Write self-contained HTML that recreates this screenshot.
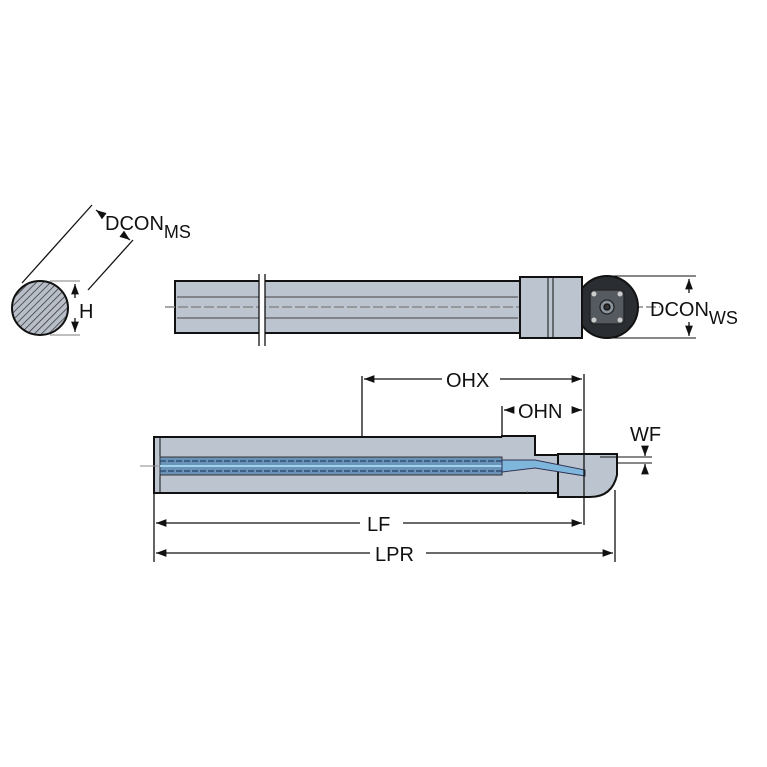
<!DOCTYPE html>
<html><head><style>body{margin:0;background:#fff}svg{display:block}text{font-family:"Liberation Sans",sans-serif;fill:#111}</style></head><body>
<svg width="767" height="767" viewBox="0 0 767 767" xmlns="http://www.w3.org/2000/svg">
<defs>
<pattern id="h" width="5" height="5" patternUnits="userSpaceOnUse" patternTransform="rotate(45)"><rect width="5" height="5" fill="#b8bfc8"/><line x1="0" y1="0" x2="0" y2="5" stroke="#333" stroke-width="1.5"/></pattern>
<marker id="a" markerWidth="8" markerHeight="6" refX="8" refY="3" orient="auto-start-reverse"><path d="M0,0 L8,3 L0,6z" fill="#111"/></marker>
</defs>
<g stroke="#111" fill="none" stroke-width="1.3">
<ellipse cx="40" cy="308" rx="28" ry="27" fill="url(#h)" stroke-width="2"/>
<line x1="22" y1="283" x2="92" y2="205"/><line x1="88" y1="290" x2="133" y2="240"/>
<line x1="96" y1="210" x2="104" y2="216" marker-start="url(#a)"/>
<line x1="122" y1="234" x2="130" y2="240" marker-end="url(#a)"/>
<line x1="50" y1="281" x2="80" y2="281" stroke="#999"/><line x1="50" y1="335" x2="80" y2="335" stroke="#999"/>
<line x1="75" y1="284" x2="75" y2="298" marker-start="url(#a)"/><line x1="75" y1="318" x2="75" y2="332" marker-end="url(#a)"/>
<rect x="175" y="281" width="346" height="52" fill="#bcc5cf" stroke-width="2"/>
<line x1="177" y1="297" x2="518" y2="297" stroke="#444" stroke-width="1"/>
<line x1="177" y1="318" x2="518" y2="318" stroke="#444" stroke-width="1"/>
<line x1="165" y1="307" x2="660" y2="307" stroke="#888" stroke-dasharray="10,3" stroke-width="1.5"/>
<rect x="259" y="276" width="6" height="70" fill="#fff" stroke="none"/>
<line x1="259" y1="274" x2="259" y2="346"/><line x1="265" y1="274" x2="265" y2="346"/>
<circle cx="607" cy="307" r="31" fill="#2a2d31" stroke-width="2"/>
<rect x="520" y="277" width="62" height="61" fill="#bcc5cf" stroke-width="2"/>
<line x1="548" y1="278" x2="548" y2="337" stroke-width="1"/><line x1="553" y1="278" x2="553" y2="337" stroke-width="1"/>
<rect x="590" y="290" width="34" height="34" rx="4" fill="#555a60" stroke="#222"/>
<circle cx="607" cy="307" r="7" fill="#8a939c" stroke="#222"/><circle cx="607" cy="307" r="3" fill="#333"/>
<circle cx="594" cy="294" r="2.5" fill="#ccc" stroke="none"/><circle cx="620" cy="294" r="2.5" fill="#ccc" stroke="none"/>
<circle cx="594" cy="320" r="2.5" fill="#ccc" stroke="none"/><circle cx="620" cy="320" r="2.5" fill="#ccc" stroke="none"/>
<line x1="610" y1="276" x2="696" y2="276" stroke-width="1"/><line x1="610" y1="338" x2="696" y2="338" stroke-width="1"/>
<line x1="689" y1="279" x2="689" y2="293" marker-start="url(#a)"/><line x1="689" y1="322" x2="689" y2="336" marker-end="url(#a)"/>
<rect x="154" y="437" width="374" height="56" fill="#bcc5cf" stroke-width="2"/>
<line x1="160" y1="438" x2="160" y2="492" stroke-width="1"/>
<path d="M502,437 L502,436 L535,436 L535,455 L558,455 L558,493 L528,493" fill="#bcc5cf" stroke-width="2"/>
<path d="M558,454 L617,454 L617,475 Q612,497 590,497 L558,497 Z" fill="#bcc5cf" stroke-width="2"/>
<rect x="160" y="457" width="342" height="18" fill="#6b93b8" stroke="#333" stroke-width="1"/>
<line x1="160" y1="461" x2="502" y2="461" stroke="#2c4f75" stroke-dasharray="6,2" stroke-width="1.5"/>
<line x1="160" y1="471" x2="502" y2="471" stroke="#2c4f75" stroke-dasharray="6,2" stroke-width="1.5"/>
<line x1="160" y1="466" x2="502" y2="466" stroke="#9fd3ee" stroke-width="2"/>
<path d="M502,460 L535,460 L585,470 L585,476 L535,468 L502,472 Z" fill="#7fb7dc" stroke="#335" stroke-width="1"/>
<line x1="140" y1="466" x2="158" y2="466" stroke="#888" stroke-width="1"/>
<line x1="618" y1="463" x2="652" y2="463" stroke-width="1"/><line x1="600" y1="457" x2="652" y2="457" stroke-width="1"/>
<line x1="645" y1="446" x2="645" y2="456" marker-end="url(#a)"/><line x1="645" y1="474" x2="645" y2="464" marker-end="url(#a)"/>
<line x1="362" y1="376" x2="362" y2="437"/>
<line x1="584" y1="374" x2="584" y2="525"/>
<line x1="364" y1="379" x2="442" y2="379" marker-start="url(#a)"/><line x1="500" y1="379" x2="582" y2="379" marker-end="url(#a)"/>
<line x1="502" y1="406" x2="502" y2="436"/>
<line x1="504" y1="410" x2="514" y2="410" marker-start="url(#a)"/><line x1="572" y1="410" x2="582" y2="410" marker-end="url(#a)"/>
<line x1="154" y1="493" x2="154" y2="562"/><line x1="615" y1="490" x2="615" y2="562"/>
<line x1="156" y1="523" x2="360" y2="523" marker-start="url(#a)"/><line x1="403" y1="523" x2="582" y2="523" marker-end="url(#a)"/>
<line x1="156" y1="553" x2="370" y2="553" marker-start="url(#a)"/><line x1="426" y1="553" x2="613" y2="553" marker-end="url(#a)"/>
</g>
<g style="font-size:20px">
<text x="105" y="230">DCON<tspan font-size="18" dy="8">MS</tspan></text>
<text x="79" y="318">H</text>
<text x="650" y="316">DCON<tspan font-size="18" dy="8">WS</tspan></text>
<text x="446" y="387">OHX</text>
<text x="518" y="418">OHN</text>
<text x="630" y="441">WF</text>
<text x="367" y="531">LF</text>
<text x="375" y="561">LPR</text>
</g>
</svg>
</body></html>
